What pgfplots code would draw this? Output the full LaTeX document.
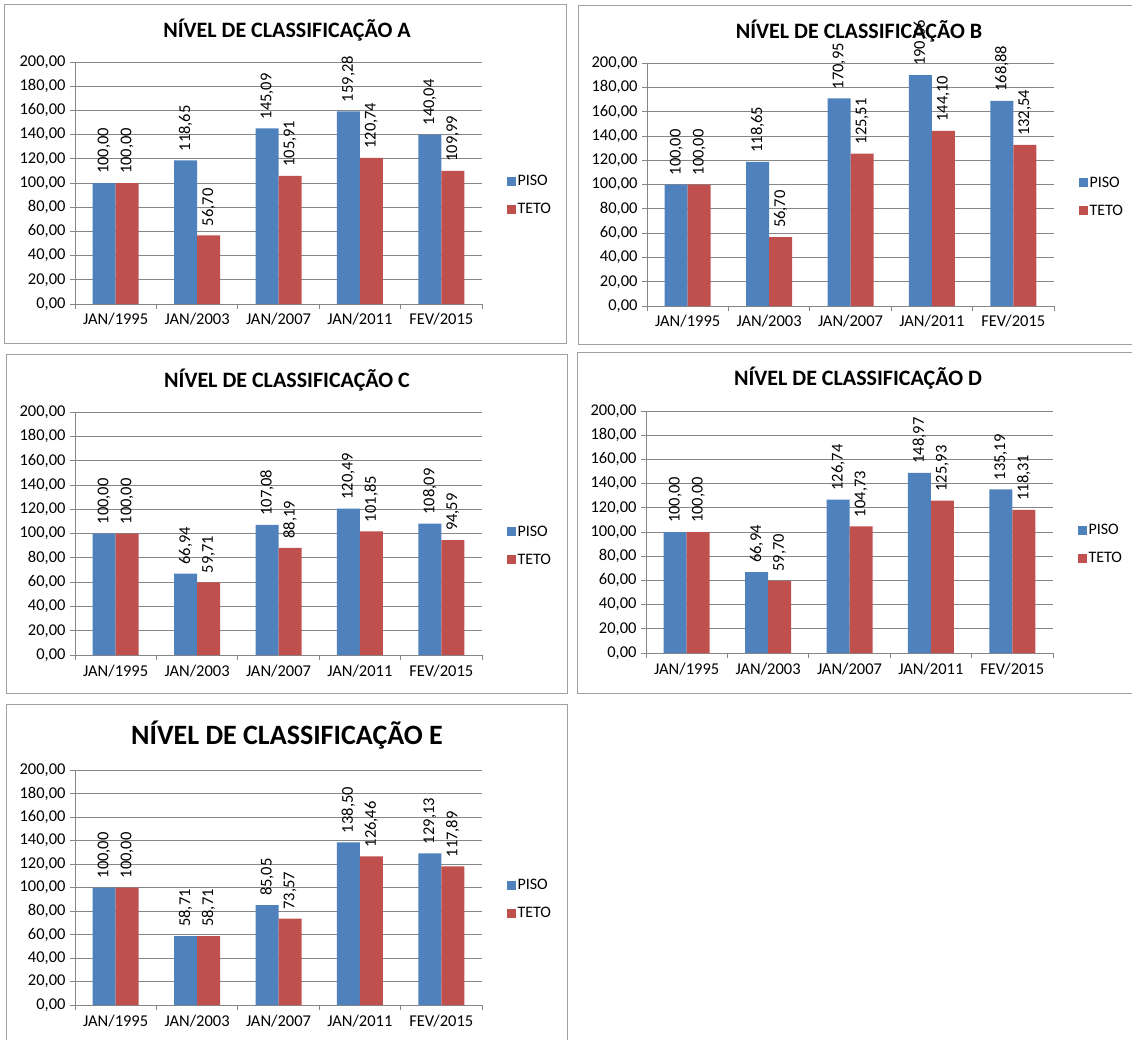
\documentclass[border=0pt]{standalone}
\usepackage{pgfplots}
\pgfplotsset{compat=1.18}
\usepackage{fontspec}
\setmainfont{Carlito}
\definecolor{piso}{HTML}{4F81BD}
\definecolor{teto}{HTML}{C0504D}
\definecolor{gridc}{HTML}{868686}
\definecolor{boxc}{HTML}{A0A0A0}
\newcommand\fs[1]{\fontsize{#1}{#1}\selectfont}
\pgfplotsset{
 panel/.style={
  scale only axis, width=407pt, height=242pt,
  anchor=south west,
  ybar=0pt, bar width=23pt,
  ymin=0, ymax=200, ytick={0,20,...,200},
  xmin=-0.5, xmax=4.5,
  xtick={-0.5,0.5,1.5,2.5,3.5,4.5},
  xticklabels={},
  extra x ticks={0,1,2,3,4},
  extra x tick labels={JAN/1995,JAN/2003,JAN/2007,JAN/2011,FEV/2015},
  extra x tick style={grid=none, major tick length=0pt},
  axis x line*=bottom, axis y line*=left,
  axis line style={gridc, -, line width=0.8pt},
  ymajorgrids, major grid style={gridc, line width=0.8pt},
  tick style={gridc, line width=0.8pt},
  tick align=outside, major tick length=5pt,
  tick label style={font=\fs{16.5}},
  yticklabel style={xshift=-1pt},
  xticklabel style={yshift=-6pt},
  /pgf/number format/.cd, fixed, fixed zerofill, precision=2, use comma, 1000 sep={}, assume math mode=true,
  /pgfplots/.cd,
  nodes near coords,
  nodes near coords style={font=\fs{16.5}, yshift=9pt, rotate=90, anchor=west, inner sep=0pt, text=black},
  legend style={at={(1.061,0.45)}, anchor=west, draw=none, fill=none, font=\fs{16},
    row sep=13pt, inner sep=0pt, nodes={inner sep=1.5pt}},
  legend cell align=left,
  legend image code/.code={\fill[##1] (0pt,-4.5pt) rectangle (9pt,4.5pt);},
 },
 piso/.style={fill=piso, draw=none},
 teto/.style={fill=teto, draw=none},
}
\begin{document}
\begin{tikzpicture}
\useasboundingbox (0pt,0pt) rectangle (1132pt,-1039pt);
% panel borders
\draw[boxc, line width=1pt] (4pt,-4pt) rectangle (566pt,-343pt);
\draw[boxc, line width=1pt] (578pt,-5pt) rectangle (1150pt,-344pt);
\draw[boxc, line width=1pt] (6pt,-354pt) rectangle (567pt,-693pt);
\draw[boxc, line width=1pt] (577pt,-352pt) rectangle (1150pt,-693pt);
\draw[boxc, line width=1pt] (6pt,-704pt) rectangle (567pt,-1060pt);

% A
\begin{axis}[panel, at={(75pt,-304pt)}, height=242pt]
\addplot[piso] coordinates {(0,100.00) (1,118.65) (2,145.09) (3,159.28) (4,140.04)};
\addplot[teto] coordinates {(0,100.00) (1,56.70) (2,105.91) (3,120.74) (4,109.99)};
\legend{PISO,TETO}
\end{axis}
\node[font=\bfseries\fs{22}] at (287pt,-30pt) {NÍVEL DE CLASSIFICAÇÃO A};

% B
\begin{axis}[panel, at={(647pt,-306pt)}, height=243pt]
\addplot[piso] coordinates {(0,100.00) (1,118.65) (2,170.95) (3,190.06) (4,168.88)};
\addplot[teto] coordinates {(0,100.00) (1,56.70) (2,125.51) (3,144.10) (4,132.54)};
\legend{PISO,TETO}
\end{axis}
\node[font=\bfseries\fs{22}] at (859pt,-31pt) {NÍVEL DE CLASSIFICAÇÃO B};

% C
\begin{axis}[panel, at={(75pt,-655pt)}, height=243pt]
\addplot[piso] coordinates {(0,100.00) (1,66.94) (2,107.08) (3,120.49) (4,108.09)};
\addplot[teto] coordinates {(0,100.00) (1,59.71) (2,88.19) (3,101.85) (4,94.59)};
\legend{PISO,TETO}
\end{axis}
\node[font=\bfseries\fs{22}] at (287pt,-380pt) {NÍVEL DE CLASSIFICAÇÃO C};

% D
\begin{axis}[panel, at={(646pt,-653pt)}, height=242pt]
\addplot[piso] coordinates {(0,100.00) (1,66.94) (2,126.74) (3,148.97) (4,135.19)};
\addplot[teto] coordinates {(0,100.00) (1,59.70) (2,104.73) (3,125.93) (4,118.31)};
\legend{PISO,TETO}
\end{axis}
\node[font=\bfseries\fs{22}] at (858pt,-378pt) {NÍVEL DE CLASSIFICAÇÃO D};

% E
\begin{axis}[panel, at={(75pt,-1005pt)}, height=235pt]
\addplot[piso] coordinates {(0,100.00) (1,58.71) (2,85.05) (3,138.50) (4,129.13)};
\addplot[teto] coordinates {(0,100.00) (1,58.71) (2,73.57) (3,126.46) (4,117.89)};
\legend{PISO,TETO}
\end{axis}
\node[font=\bfseries\fs{28}] at (287pt,-735pt) {NÍVEL DE CLASSIFICAÇÃO E};
\end{tikzpicture}
\end{document}
